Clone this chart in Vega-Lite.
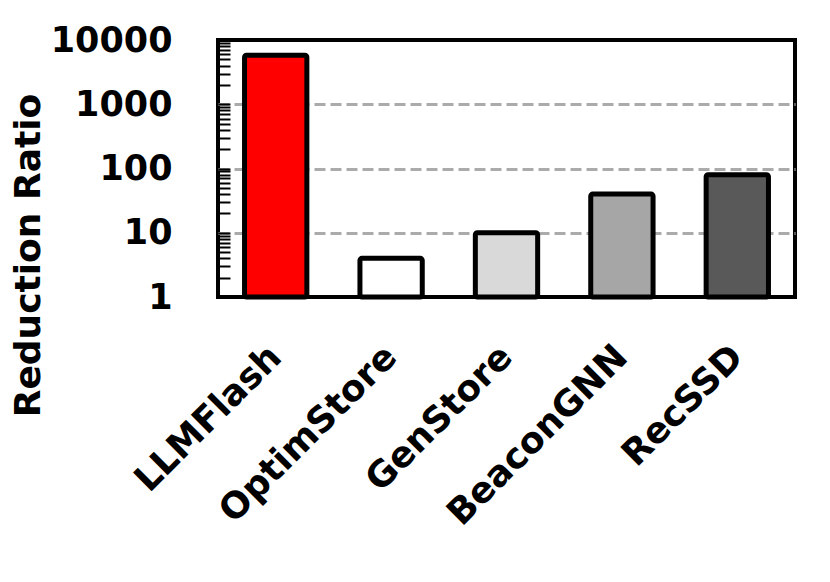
{
  "$schema": "https://vega.github.io/schema/vega-lite/v6.json",
  "width": 577,
  "height": 257,
  "autosize": "none",
  "padding": {"left": 218, "top": 40, "right": 35, "bottom": 285},
  "background": "white",
  "config": {
    "font": "DejaVu Sans",
    "view": {"stroke": "black", "strokeWidth": 4}
  },
  "data": {
    "values": [
      {"system": "LLMFlash", "ratio": 5800, "color": "#ff0000"},
      {"system": "OptimStore", "ratio": 4, "color": "#ffffff"},
      {"system": "GenStore", "ratio": 10, "color": "#d9d9d9"},
      {"system": "BeaconGNN", "ratio": 40, "color": "#a6a6a6"},
      {"system": "RecSSD", "ratio": 80, "color": "#595959"}
    ]
  },
  "mark": {"type": "bar", "stroke": "black", "strokeWidth": 5, "strokeJoin": "round", "cornerRadius": 2},
  "encoding": {
    "x": {
      "field": "system",
      "type": "nominal",
      "sort": null,
      "scale": {"paddingInner": 0.46, "paddingOuter": 0.23},
      "axis": {
        "title": null,
        "labelAngle": -45,
        "labelAlign": "right",
        "labelBaseline": "middle",
        "labelFont": "DejaVu Sans",
        "labelFontWeight": "bold",
        "labelFontSize": 36,
        "labelColor": "black",
        "labelLimit": 0,
        "labelPadding": 54,
        "labelOffset": 0,
        "ticks": false,
        "domain": false
      }
    },
    "y": {
      "field": "ratio",
      "type": "quantitative",
      "stack": null,
      "scale": {"type": "log", "domain": [1, 10000], "nice": false},
      "axis": {
        "title": "Reduction Ratio",
        "titleFont": "DejaVu Sans",
        "titleFontWeight": "bold",
        "titleFontSize": 36,
        "titleColor": "black",
        "titleAngle": -90,
        "titleAlign": "center",
        "titleBaseline": "alphabetic",
        "titleX": -179,
        "titleY": 215,
        "values": [1,2,3,4,5,6,7,8,9,10,20,30,40,50,60,70,80,90,100,200,300,400,500,600,700,800,900,1000,2000,3000,4000,5000,6000,7000,8000,9000,10000],
        "format": "d",
        "labelExpr": "(datum.value == 1 || datum.value == 10 || datum.value == 100 || datum.value == 1000 || datum.value == 10000) ? datum.label : ''",
        "labelFont": "DejaVu Sans",
        "labelFontWeight": "bold",
        "labelFontSize": 35,
        "labelColor": "black",
        "labelPadding": 58,
        "tickSize": -12,
        "tickColor": "black",
        "tickWidth": 2,
        "domain": false,
        "grid": true,
        "gridColor": "#ababab",
        "gridWidth": 3,
        "gridDash": [11, 5],
        "gridOpacity": {"condition": {"test": "datum.value == 10 || datum.value == 100 || datum.value == 1000", "value": 1}, "value": 0}
      }
    },
    "fill": {"field": "color", "type": "nominal", "scale": null}
  }
}
